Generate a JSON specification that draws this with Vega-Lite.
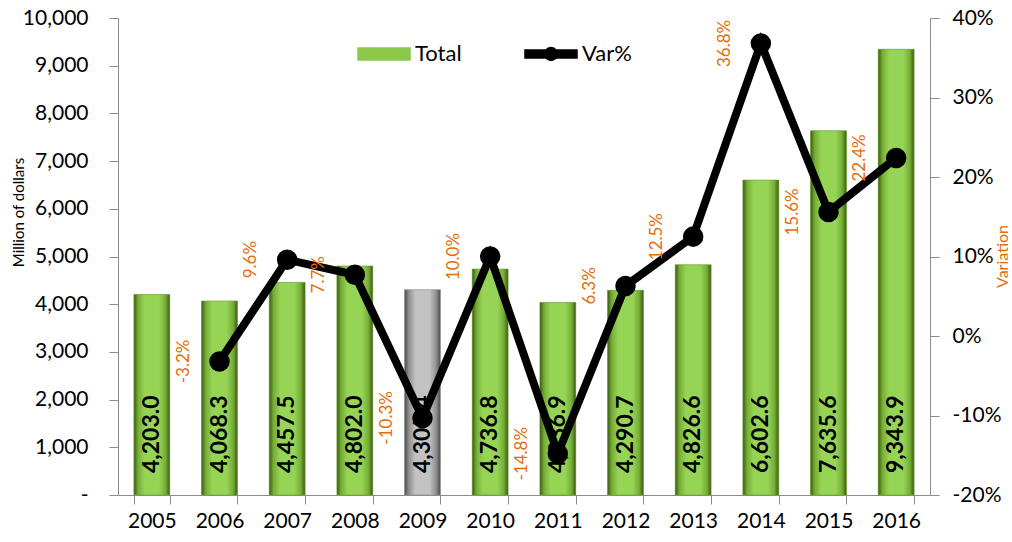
{
  "$schema": "https://vega.github.io/schema/vega-lite/v6.json",
  "width": 812,
  "height": 477,
  "autosize": "none",
  "padding": {"left": 118, "top": 18, "right": 82, "bottom": 47},
  "config": {
    "locale": {"number": {"decimal": ".", "thousands": ",", "grouping": [3], "currency": ["$", ""], "minus": "-"}},
    "view": {"stroke": null},
    "font": "Lato",
    "axis": {"grid": false, "domainColor": "#8c8c8c", "tickColor": "#8c8c8c", "labelFont": "Lato", "labelFontSize": 21, "labelColor": "#000000", "titleFont": "Lato", "titleFontWeight": "normal"}
  },
  "data": {"values": [
    {"Year": "2005", "Total": 4203.0, "Var": null},
    {"Year": "2006", "Total": 4068.3, "Var": -0.032},
    {"Year": "2007", "Total": 4457.5, "Var": 0.096},
    {"Year": "2008", "Total": 4802.0, "Var": 0.077},
    {"Year": "2009", "Total": 4305.4, "Var": -0.103},
    {"Year": "2010", "Total": 4736.8, "Var": 0.100},
    {"Year": "2011", "Total": 4036.9, "Var": -0.148},
    {"Year": "2012", "Total": 4290.7, "Var": 0.063},
    {"Year": "2013", "Total": 4826.6, "Var": 0.125},
    {"Year": "2014", "Total": 6602.6, "Var": 0.368},
    {"Year": "2015", "Total": 7635.6, "Var": 0.156},
    {"Year": "2016", "Total": 9343.9, "Var": 0.224}
  ]},
  "encoding": {
    "x": {"field": "Year", "type": "nominal", "title": null,
      "scale": {"paddingInner": 0.47, "paddingOuter": 0.235},
      "axis": {"labelAngle": 0, "tickBand": "extent", "tickSize": 9, "labelPadding": 6, "domainColor": "#8c8c8c"}}
  },
  "layer": [
    {
      "encoding": {
        "y": {"type": "quantitative",
          "scale": {"domain": [0, 10000], "nice": false},
          "axis": {"orient": "left", "values": [0,1000,2000,3000,4000,5000,6000,7000,8000,9000,10000],
            "labelExpr": "datum.value == 0 ? '-' : format(datum.value, ',')",
            "tickSize": 9, "labelPadding": 21,
            "title": "Million of dollars", "titleFontSize": 15, "titleColor": "#000000",
            "titleAngle": 270, "titleX": -100, "titleY": 194, "titleAlign": "center", "titleBaseline": "middle"}}
      },
      "layer": [
        {
          "transform": [{"filter": "datum.Year != '2009'"}],
          "mark": {"type": "bar"},
          "encoding": {
            "y": {"field": "Total"},
            "color": {"datum": "Total", "type": "nominal",
              "scale": {"domain": ["Total", "Var%"], "range": ["#8cc84b", "#000000"]},
              "legend": {
                "title": null, "orient": "none", "legendX": 239, "legendY": 9,
                "direction": "horizontal", "columnPadding": 60, "labelOffset": 4,
                "labelFont": "Lato", "labelFontSize": 22, "labelColor": "#000000",
                "symbolSize": 2704,
                "encode": {"symbols": {"update": {
                  "shape": {"signal": "datum.value === 'Total' ? 'M-1,-0.23H1V0.23H-1Z' : 'M-1,-0.15H-0.2A0.25,0.25 0 0,1 0.2,-0.15H1V0.15H0.2A0.25,0.25 0 0,1 -0.2,0.15H-1Z'"},
                  "fill": {"scale": "color", "field": "value"},
                  "stroke": {"signal": "datum.value === 'Total' ? '#4d7a1a' : 'transparent'"},
                  "strokeWidth": {"value": 1.5},
                  "opacity": {"value": 1},
                  "fillOpacity": {"value": 1}
                }}}
              }}
          }
        },
        {
          "transform": [{"filter": "datum.Year != '2009'"}],
          "mark": {"type": "bar", "stroke": "#6f9e35", "strokeWidth": 0.6,
            "fill": {"gradient": "linear", "x1": 0, "y1": 0, "x2": 1, "y2": 0, "stops": [
              {"offset": 0, "color": "#3a5a12"},
              {"offset": 0.12, "color": "#76ad36"},
              {"offset": 0.3, "color": "#96d456"},
              {"offset": 0.7, "color": "#96d456"},
              {"offset": 0.88, "color": "#76ad36"},
              {"offset": 1, "color": "#3a5a12"}]}},
          "encoding": {"y": {"field": "Total"}}
        },
        {
          "transform": [{"filter": "datum.Year == '2009'"}],
          "mark": {"type": "bar", "stroke": "#8a8a8a", "strokeWidth": 0.6,
            "fill": {"gradient": "linear", "x1": 0, "y1": 0, "x2": 1, "y2": 0, "stops": [
              {"offset": 0, "color": "#4a4a4a"},
              {"offset": 0.12, "color": "#8f8f8f"},
              {"offset": 0.3, "color": "#c2c2c2"},
              {"offset": 0.7, "color": "#c2c2c2"},
              {"offset": 0.88, "color": "#8f8f8f"},
              {"offset": 1, "color": "#4a4a4a"}]}},
          "encoding": {"y": {"field": "Total"}}
        },
        {
          "mark": {"type": "text", "angle": 270, "align": "left", "baseline": "middle", "dx": 22, "font": "Lato", "fontWeight": "bold", "fontSize": 23, "color": "#000000"},
          "encoding": {
            "y": {"datum": 0},
            "text": {"field": "Total", "type": "quantitative", "format": ",.1f"}
          }
        }
      ]
    },
    {
      "transform": [{"filter": "datum.Var != null"}],
      "encoding": {
        "y": {"field": "Var", "type": "quantitative",
          "scale": {"domain": [-0.2, 0.4], "nice": false},
          "axis": {"orient": "right", "values": [-0.2,-0.1,0,0.1,0.2,0.3,0.4], "format": ".0%",
            "tickSize": 9, "labelPadding": 13,
            "title": "Variation", "titleColor": "#E46C0A", "titleFontSize": 16,
            "titleAngle": 270, "titleX": 72, "titleY": 238, "titleAlign": "center", "titleBaseline": "middle"}}
      },
      "layer": [
        {
          "mark": {"type": "line", "strokeWidth": 8},
          "encoding": {"color": {"datum": "Var%", "type": "nominal"}}
        },
        {
          "mark": {"type": "circle", "size": 420, "opacity": 1},
          "encoding": {"color": {"datum": "Var%", "type": "nominal"}}
        },
        {
          "mark": {"type": "text", "angle": 270, "align": "center", "baseline": "middle", "dy": -36, "font": "Lato", "fontSize": 17, "color": "#E46C0A"},
          "encoding": {"text": {"field": "Var", "type": "quantitative", "format": ".1%"}}
        }
      ]
    }
  ],
  "resolve": {"scale": {"y": "independent"}}
}
